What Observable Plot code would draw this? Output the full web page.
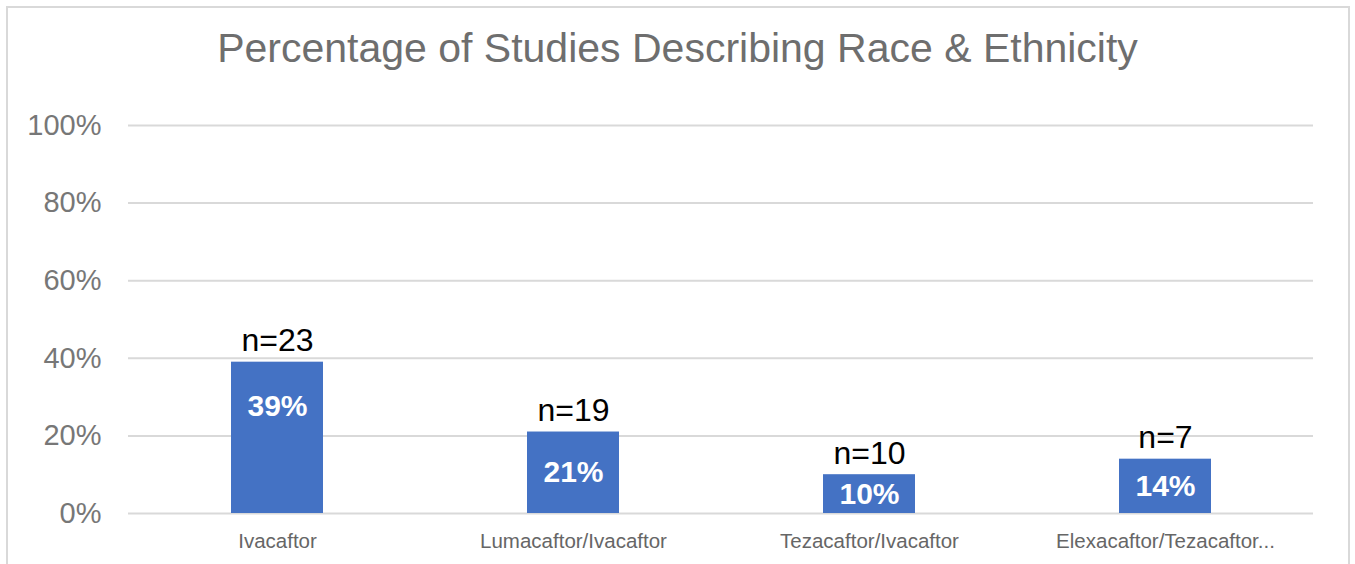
<!DOCTYPE html>
<html>
<head>
<meta charset="utf-8">
<script src="https://cdn.jsdelivr.net/npm/d3@7"></script>
<script src="https://cdn.jsdelivr.net/npm/@observablehq/plot@0.6"></script>
<style>
  html, body { margin: 0; padding: 0; background: #fff; }
  body { width: 1355px; height: 564px; position: relative; overflow: hidden; font-family: "Liberation Sans", Arial, sans-serif; }
  #frame { position: absolute; left: 6px; top: 6px; width: 1340px; height: 600px; border: 2px solid #d9d9d9; pointer-events: none; }
  #title { position: absolute; left: 0; top: 0; width: 1355px; height: 100px; text-align: center; font-size: 41px; color: #6e6e6e; line-height: 96px; }
  #chart { position: absolute; left: 0; top: 100px; }
</style>
</head>
<body>
<div id="title">Percentage of Studies Describing Race &amp; Ethnicity</div>
<div id="chart"></div>
<div id="frame"></div>
<script>
const drugs = ["Ivacaftor", "Lumacaftor/Ivacaftor", "Tezacaftor/Ivacaftor", "Elexacaftor/Tezacaftor..."];
const percents = [39, 21, 10, 14];
const nStudies = [23, 19, 10, 7];
const yTicks = [0, 20, 40, 60, 80, 100];

const data = drugs.map((d, i) => ({drug: d, pct: percents[i], n: nStudies[i]}));

const plot = Plot.plot({
  width: 1355,
  height: 464,
  marginTop: 25,
  marginBottom: 51,
  marginLeft: 128,
  marginRight: 42,
  style: {fontFamily: "'Liberation Sans', Arial, sans-serif", color: "#777777", background: "transparent"},
  x: {domain: drugs, paddingInner: 0.69, paddingOuter: 0.345, align: 0.5, label: null},
  y: {domain: [0, 100], label: null},
  marks: [
    Plot.gridY(yTicks, {stroke: "#d9d9d9", strokeOpacity: 1, strokeWidth: 2}),
    Plot.axisY(yTicks, {tickSize: 0, tickPadding: 27, fontSize: 29, tickFormat: d => d + "%", fill: "#777777", label: null}),
    Plot.axisX({tickSize: 0, tickPadding: 20, fontSize: 20.5, fill: "#666666", label: null}),
    Plot.barY(data, {x: "drug", y: "pct", fill: "#4472C4"}),
    Plot.text(data, {x: "drug", y: "pct", text: d => "n=" + d.n, dy: -21, fontSize: 32, fill: "#000000"}),
    Plot.text(data, {x: "drug", y: d => Math.max(d.pct - 11.3, d.pct / 2), text: d => d.pct + "%", fontSize: 30, fontWeight: "bold", fill: "#ffffff"})
  ]
});
document.getElementById("chart").appendChild(plot);
</script>
</body>
</html>
